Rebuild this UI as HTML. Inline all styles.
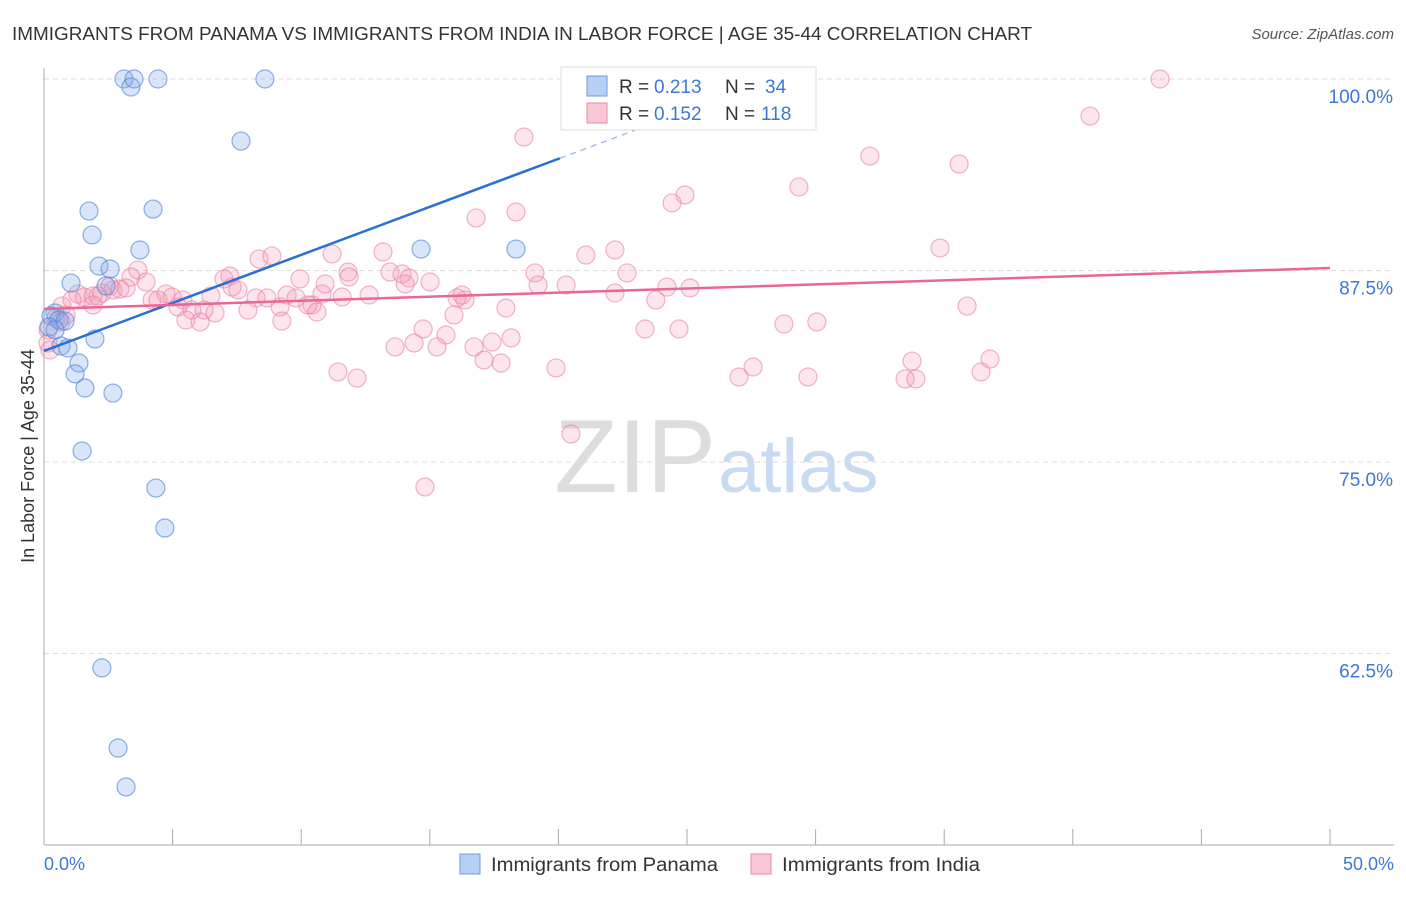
<!DOCTYPE html>
<html><head><meta charset="utf-8"><style>
body{margin:0;background:#fff;font-family:"Liberation Sans",sans-serif;}
svg text{font-family:"Liberation Sans",sans-serif;}
</style></head><body>
<svg id="chart" width="1406" height="892">
<text x="12" y="40" font-size="18" fill="#333" textLength="1020" lengthAdjust="spacingAndGlyphs">IMMIGRANTS FROM PANAMA VS IMMIGRANTS FROM INDIA IN LABOR FORCE | AGE 35-44 CORRELATION CHART</text>
<text x="1394" y="39" font-size="15" fill="#555" font-style="italic" text-anchor="end">Source: ZipAtlas.com</text>
<text x="716" y="492" font-size="104" fill="#ddd" text-anchor="end" font-family="Liberation Serif">ZIP</text>
<text x="718" y="492" font-size="76" fill="#c9daf3">atlas</text>
<g id="grid"></g><g id="axes"></g><g id="pts"></g><g id="trend"></g>
<text transform="translate(34,456) rotate(-90)" font-size="18" fill="#333" text-anchor="middle">In Labor Force | Age 35-44</text>
<text x="44" y="870" font-size="18" fill="#3b78d8">0.0%</text>
<text x="1394" y="870" font-size="18" fill="#3b78d8" text-anchor="end">50.0%</text>
<g>
<rect x="561" y="67" width="255" height="63" fill="#fff" stroke="#ddd"/>
<rect x="587" y="76" width="20" height="20" fill="#b6d0f5" stroke="#6f9be0"/>
<rect x="587" y="103" width="20" height="20" fill="#f9c6d6" stroke="#e98aa8"/>
<text y="93" font-size="19" fill="#333"><tspan x="619">R =</tspan><tspan x="654" fill="#3b78d8">0.213</tspan><tspan x="725">N =</tspan><tspan x="765" fill="#3b78d8">34</tspan></text>
<text y="120" font-size="19" fill="#333"><tspan x="619">R =</tspan><tspan x="654" fill="#3b78d8">0.152</tspan><tspan x="725">N =</tspan><tspan x="761" fill="#3b78d8">118</tspan></text>
</g>
<g>
<rect x="460" y="854" width="20" height="20" fill="#b6d0f5" stroke="#6f9be0"/>
<text x="491" y="871" font-size="19" fill="#333" textLength="227" lengthAdjust="spacingAndGlyphs">Immigrants from Panama</text>
<rect x="751" y="854" width="20" height="20" fill="#f9c6d6" stroke="#e98aa8"/>
<text x="782" y="871" font-size="19" fill="#333" textLength="198" lengthAdjust="spacingAndGlyphs">Immigrants from India</text>
</g>
</svg>
<script>
const yTicks=[100,87.5,75,62.5];
const yTickLabels=["100.0%","87.5%","75.0%","62.5%"];
const panamaX=[3.11,3.38,3.50,4.43,8.59,7.66,1.75,4.24,1.87,3.73,14.66,18.35,2.14,2.57,1.05,2.41,0.43,0.27,0.58,0.82,0.19,0.43,1.98,0.66,0.93,1.36,1.21,1.59,2.68,1.48,4.35,4.70,2.25,2.88,3.19];
const panamaY=[100,99.48,100,100,100,95.95,91.38,91.51,89.82,88.84,88.90,88.90,87.79,87.60,86.68,86.49,84.73,84.53,84.27,84.20,83.81,83.62,83.03,82.57,82.44,81.46,80.75,79.83,79.50,75.72,73.30,70.69,61.56,56.33,53.79];
const indiaX=[43.39,40.67,18.66,32.11,35.58,29.35,24.92,24.42,18.35,16.80,34.84,22.20,21.07,13.18,11.20,8.36,8.86,3.65,22.67,19.09,14.19,11.82,13.45,13.92,7.00,7.23,9.95,3.38,3.97,2.57,14.04,15.01,19.21,20.30,10.93,11.86,25.12,24.22,22.20,23.79,35.89,1.32,1.56,1.91,2.26,2.68,2.95,3.19,4.74,4.98,4.20,4.43,5.40,6.49,7.31,7.54,8.24,8.67,9.45,9.80,10.42,10.81,11.59,12.64,10.26,16.37,16.06,16.25,17.96,0.70,1.09,1.91,0.47,0.16,0.23,0.86,5.21,5.75,6.22,6.65,7.93,9.18,10.61,5.52,6.07,9.25,15.94,14.74,15.63,13.65,14.39,15.28,16.72,17.42,18.16,17.11,17.77,23.37,24.69,28.77,30.05,11.43,12.17,19.91,27.02,27.57,29.70,33.75,33.48,33.90,36.78,36.43,20.49,14.81,0.16,2.10,0.66];
const indiaY=[100,97.58,96.21,94.97,94.45,92.95,92.43,91.91,91.32,90.93,88.97,88.84,88.51,88.71,88.58,88.25,88.45,87.53,87.34,87.34,87.01,87.40,87.40,87.27,86.95,87.14,86.95,87.08,86.75,86.49,86.62,86.75,86.55,86.55,86.62,87.08,86.36,86.42,86.03,85.58,85.18,85.97,85.77,85.84,86.03,86.23,86.29,86.36,85.97,85.77,85.58,85.58,85.58,85.84,86.42,86.23,85.71,85.71,85.90,85.71,85.25,85.97,85.77,85.90,85.25,85.58,85.71,85.90,85.05,85.18,85.58,85.25,84.40,83.62,82.31,84.60,85.12,84.92,84.92,84.73,84.92,85.12,84.79,84.27,84.14,84.20,84.60,83.68,83.29,82.51,82.77,82.51,82.51,82.83,83.10,81.66,81.46,83.68,83.68,84.01,84.14,80.88,80.48,81.14,80.55,81.20,80.55,81.59,80.42,80.42,81.72,80.88,76.83,73.37,82.77,85.84,84.14];
const panamaTrend=[82.25,0.627];
const indiaTrend=[84.99,0.0534];
const ns="http://www.w3.org/2000/svg";
const X=v=>44+v/50*1286;
const Y=v=>79+(100-v)/12.5*191.5;
function mk(t,a,p){const e=document.createElementNS(ns,t);for(const k in a)e.setAttribute(k,a[k]);p.appendChild(e);return e;}
const grid=document.getElementById('grid'),axes=document.getElementById('axes');
yTicks.forEach((t,i)=>{
 const l=mk('line',{x1:44,x2:1394,y1:Y(t),y2:Y(t),stroke:'#ddd','stroke-dasharray':'5,4'},grid);
 
 
 const tx=mk('text',{x:1393,y:Y(t)+24,'font-size':19,fill:'#3b78d8','text-anchor':'end'},grid);
 tx.textContent=yTickLabels[i];
 
 
});
const ax=mk('line',{x1:44,x2:1394,y1:845,y2:845,stroke:'#aaa'},axes);


const ay=mk('line',{x1:44,x2:44,y1:68,y2:845,stroke:'#aaa'},axes);


for(let k=0;k<=10;k++){const t=mk('line',{x1:X(k*5),x2:X(k*5),y1:829,y2:845,stroke:'#aaa'},axes);
 
 }
const pts=document.getElementById('pts');
indiaX.forEach((v,i)=>{const c=mk('circle',{cx:X(v),cy:Y(indiaY[i]),r:9,fill:'rgba(245,150,180,0.25)',stroke:'rgba(232,130,165,0.6)','stroke-width':1.2},pts);
 
 });
panamaX.forEach((v,i)=>{const c=mk('circle',{cx:X(v),cy:Y(panamaY[i]),r:9,fill:'rgba(130,170,235,0.3)',stroke:'rgba(80,135,215,0.65)','stroke-width':1.2},pts);
 
 });
const tr=document.getElementById('trend');
const p1=mk('line',{x1:X(0),y1:Y(panamaTrend[0]),x2:X(20.06),y2:Y(panamaTrend[0]+panamaTrend[1]*20.06),stroke:'#2a6fd6','stroke-width':2.5},tr);


const p2=mk('line',{x1:X(20.06),y1:Y(panamaTrend[0]+panamaTrend[1]*20.06),x2:X(27),y2:Y(panamaTrend[0]+panamaTrend[1]*27),stroke:'#8fb2e8','stroke-width':1.2,'stroke-dasharray':'6,5'},tr);


const p3=mk('line',{x1:X(0),y1:Y(indiaTrend[0]),x2:X(50),y2:Y(indiaTrend[0]+indiaTrend[1]*50),stroke:'#e8679a','stroke-width':2.5},tr);


</script>
</body></html>
